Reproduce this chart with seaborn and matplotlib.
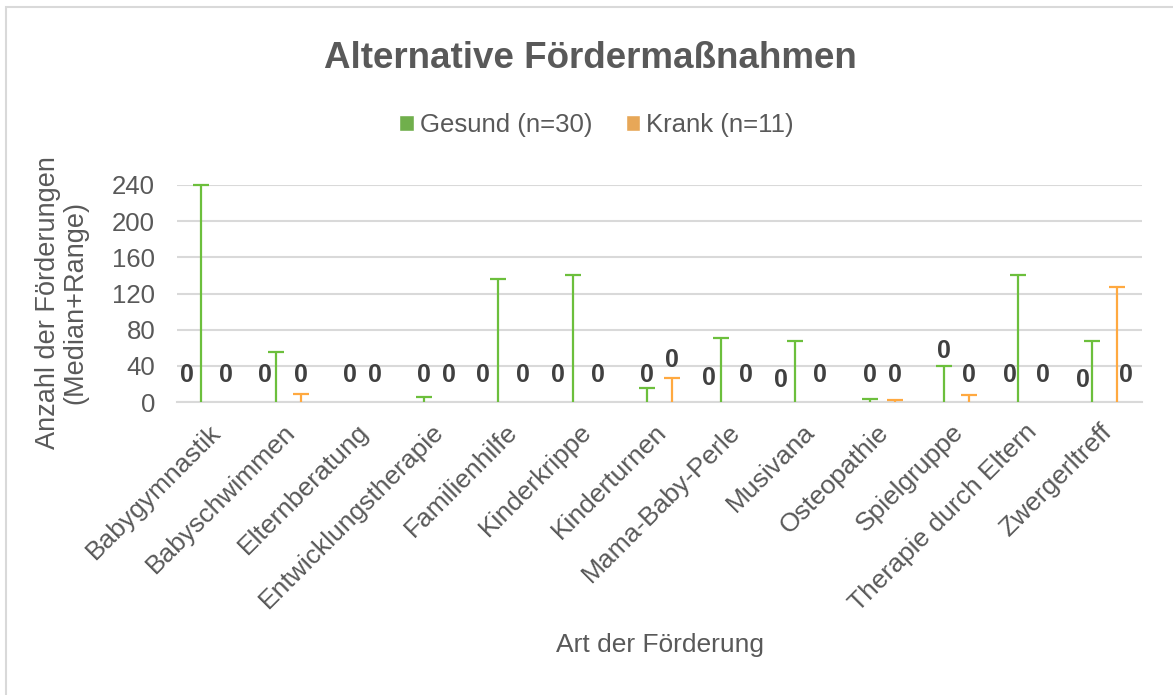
import numpy as np
import pandas as pd
import matplotlib
matplotlib.use("Agg")
import matplotlib.pyplot as plt
import matplotlib.transforms as mtransforms
from matplotlib.patches import Rectangle
import seaborn as sns

# ---------------- data ----------------
categories = ["Babygymnastik", "Babyschwimmen", "Elternberatung", "Entwicklungstherapie",
              "Familienhilfe", "Kinderkrippe", "Kinderturnen", "Mama-Baby-Perle", "Musivana",
              "Osteopathie", "Spielgruppe", "Therapie durch Eltern", "Zwergerltreff"]
groups = ["Gesund (n=30)", "Krank (n=11)"]
median_gesund = [0, 0, 0, 0, 0, 0, 0, 0, 0, 0, 0, 0, 0]
median_krank = [0, 0, 0, 0, 0, 0, 0, 0, 0, 0, 0, 0, 0]
range_gesund = [240, 55, 0, 5, 136, 140, 15, 71, 68, 3, 40, 140, 68]
range_krank = [0, 9, 0, 0, 0, 0, 27, 0, 0, 2, 8, 0, 127]
y_ticks = [0, 40, 80, 120, 160, 200, 240]

# ---------------- layout (label placement, not data) ----------------
label_y_gesund = [30, 30, 30, 30, 30, 30, 30, 27, 24, 30, 56, 30, 24]
label_dx_gesund = [-14, -11, 0, 0, -15, -15, 0, -12, -14, 0, 0, -8, -9]
label_y_krank = [30, 30, 30, 30, 30, 30, 47, 30, 30, 30, 30, 30, 30]
label_dx_krank = [0, 0, 0, 0, 0, 0, 0, 0, 0, 0, 0, 0, 9]

colors = ["#6CBF3C", "#FFA940"]
text_col = "#595959"
grid_col = "#D9D9D9"

sns.set_theme(style="white")
plt.rcParams["font.family"] = ["Liberation Sans", "DejaVu Sans"]

W, H = 1173, 695
fig = plt.figure(figsize=(W / 100, H / 100), dpi=100)
fig.patch.set_facecolor("white")
ax = fig.add_axes([176.7 / W, 1 - 402 / H, (1142 - 176.7) / W, (402 - 185) / H])

df = pd.DataFrame({
    "Art": categories * 2,
    "Median": median_gesund + median_krank,
    "Gruppe": [groups[0]] * len(categories) + [groups[1]] * len(categories),
})

sns.barplot(data=df, x="Art", y="Median", hue="Gruppe", hue_order=groups,
            palette=colors, width=0.67, errorbar=None, ax=ax, legend=True)

ranges = [range_gesund, range_krank]
medians = [median_gesund, median_krank]
label_ys = [label_y_gesund, label_y_krank]
label_dxs = [label_dx_gesund, label_dx_krank]

bar_containers = list(ax.containers)[:2]
for gi, cont in enumerate(bar_containers):
    xc = np.array([b.get_x() + b.get_width() / 2 for b in cont.patches])
    med = np.array(medians[gi], dtype=float)
    rng = np.array(ranges[gi], dtype=float)
    mask = rng > 0
    eb = ax.errorbar(xc[mask], med[mask], yerr=[np.zeros(mask.sum()), rng[mask]],
                     fmt="none", ecolor=colors[gi], elinewidth=1.6, capsize=6,
                     capthick=1.6, clip_on=False, zorder=3)
    # only the upper cap is drawn (T shape)
    for cl in eb[1]:
        yd = np.asarray(cl.get_ydata(), dtype=float)
        if np.allclose(yd, med[mask]):
            cl.set_visible(False)
    for i, x in enumerate(xc):
        ax.annotate(f"{medians[gi][i]:g}", xy=(x, label_ys[gi][i]),
                    xytext=(label_dxs[gi][i], 0), textcoords="offset pixels",
                    ha="center", va="center", fontsize=18, fontweight="bold",
                    color="#404040", zorder=4)

ax.set_xlim(-0.5, len(categories) - 0.5)
ax.set_ylim(0, 240)
ax.set_yticks(y_ticks)
ax.set_yticklabels([str(t) for t in y_ticks])
ax.yaxis.grid(True, color=grid_col, lw=1.5)
ax.xaxis.grid(False)
ax.set_axisbelow(True)
for s in ["top", "right", "left"]:
    ax.spines[s].set_visible(False)
ax.spines["bottom"].set_color(grid_col)
ax.spines["bottom"].set_linewidth(1.5)

ax.tick_params(axis="y", length=0, pad=15.5, labelsize=18.5, labelcolor=text_col)
ax.tick_params(axis="x", length=0, pad=19, labelsize=19, labelcolor=text_col)

offset = mtransforms.ScaledTranslation(3 / 100, 0, fig.dpi_scale_trans)
for lab in ax.get_xticklabels():
    lab.set_rotation(45)
    lab.set_ha("right")
    lab.set_va("center")
    lab.set_rotation_mode("anchor")
    lab.set_transform(lab.get_transform() + offset)

ax.set_xlabel("Art der Förderung", fontsize=19, color=text_col)
ax.xaxis.set_label_coords((659.6 - 176.7) / (1142 - 176.7), (402 - 645) / 217)
ax.xaxis.label.set_va("center")

ax.set_ylabel("Anzahl der Förderungen\n(Median+Range)", fontsize=19.5,
              color=text_col, linespacing=1.05)
ax.yaxis.set_label_coords((61.5 - 176.7) / (1142 - 176.7), (402 - 302.5) / 217)
ax.yaxis.label.set_va("center")

# legend
handles, labels = ax.get_legend_handles_labels()
if ax.get_legend() is not None:
    ax.get_legend().remove()
fig.legend(handles, labels, loc="center", bbox_to_anchor=(596.7 / W, 1 - 125 / H),
           ncol=2, frameon=False, fontsize=18.5, labelcolor=text_col,
           handlelength=0.55, handleheight=0.55, handletextpad=0.25,
           columnspacing=1.3, borderaxespad=0)

fig.text(590 / W, 1 - 68 / H, "Alternative Fördermaßnahmen", ha="center",
         va="baseline", fontsize=26.5, fontweight="bold", color=text_col)

# chart frame
fig.patches.append(Rectangle((6 / W, -0.05), 1.2, 1 - 7 / H + 0.05,
                             transform=fig.transFigure, fill=False,
                             edgecolor=grid_col, lw=1.5, zorder=0))

fig.savefig("out.png", dpi=100, facecolor="white")
